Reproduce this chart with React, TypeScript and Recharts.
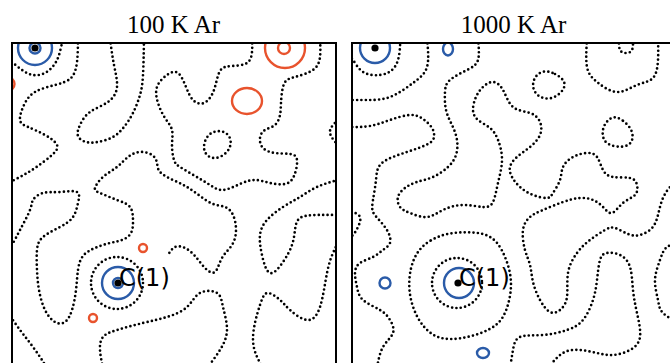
import React from 'react';
import { ComposedChart, Line, Scatter, XAxis, YAxis } from 'recharts';

// map coordinates of each panel (x to the right, y downwards from the top border)
const X_MAX = 323;
const Y_MAX = 330;

const toPts = (a: number[][]) => a.map(([x, y]) => ({ x, y }));

// ---- 100 K Ar: zero-level contours (dotted)
const coldA = toPts([[-4, 17], [1, 20], [10, 27], [21, 32], [33, 30], [42, 22], [47, 12], [50, 0], [51, -4]]);
const coldB = toPts([[66, -4], [65, 19], [59, 35], [43, 42], [23, 49], [12, 62], [8, 77], [16, 84], [33, 92], [45, 102], [40, 112], [23, 125], [8, 134], [-4, 140]]);
const coldC = toPts([[98, -4], [102, 22], [105, 44], [96, 59], [78, 69], [68, 82], [66, 93], [74, 99], [86, 99], [101, 94], [112, 84], [121, 70], [128, 52], [131, 32], [132, -4]]);
const coldD = toPts([[240, -4], [240, 9], [235, 20], [220, 23], [208, 28], [202, 47], [192, 60], [181, 57], [174, 44], [166, 30], [155, 32], [145, 44], [146, 60], [153, 75], [160, 87], [160, 102], [162, 117], [168, 124], [183, 133], [198, 142], [211, 147], [228, 141], [243, 137], [258, 140], [273, 141], [282, 133], [285, 117], [278, 111], [263, 110], [251, 105], [248, 95], [253, 87], [263, 82], [268, 72], [269, 60], [272, 41], [283, 34], [301, 27], [308, 14], [308, -4]]);
const coldE = toPts([[206, 87], [216, 90], [220, 99], [216, 110], [203, 117], [193, 112], [191, 102], [196, 91]]);
const coldF = toPts([[326, 77], [319, 85], [319, 93], [326, 102]]);
const coldG = toPts([[-4, 205], [1, 200], [8, 187], [18, 167], [21, 157], [31, 150], [48, 149], [65, 149], [66, 160], [61, 174], [48, 184], [31, 194], [25, 207], [25, 227], [27, 247], [33, 267], [43, 279], [53, 279], [60, 267], [64, 247], [66, 227], [71, 213], [83, 205], [98, 200], [110, 197], [119, 190], [121, 177], [118, 164], [105, 157], [88, 150], [83, 145], [91, 134], [105, 124], [116, 114], [128, 109], [140, 112], [145, 120], [148, 129], [161, 137], [175, 144], [188, 153], [201, 161], [213, 164], [221, 172], [224, 187], [220, 202], [210, 215], [203, 229], [193, 225], [183, 213], [173, 205], [163, 204], [156, 212]]);
const coldH = toPts([[-4, 270], [8, 287], [18, 300], [28, 314], [35, 325]]);
const coldI = toPts([[91, 325], [88, 307], [91, 294], [105, 287], [131, 280], [155, 274], [175, 264], [188, 250], [205, 250], [211, 264], [215, 287], [208, 307], [195, 325]]);
const coldJ = toPts([[326, 137], [305, 144], [288, 154], [271, 164], [255, 177], [248, 192], [250, 212], [258, 230], [271, 219], [280, 202], [283, 187], [288, 175], [305, 172], [326, 172]]);
const coldK = toPts([[251, 325], [241, 297], [248, 262], [256, 250], [268, 257], [278, 267], [295, 277], [308, 264], [315, 230], [321, 210], [326, 200]]);

// positive (red) and negative (blue) lobes: centre and radii in map units
const coldRed = [
  { x: 273, y: 5, rx: 20, ry: 20 },
  { x: 272, y: 5, rx: 6, ry: 6 },
  { x: 235, y: 58, rx: 15, ry: 13 },
  { x: 131, y: 205, rx: 4, ry: 4 },
  { x: 81, y: 275, rx: 4, ry: 4 },
  { x: -4, y: 41, rx: 6.5, ry: 6.5 },
];
const coldBlue = [
  { x: 23, y: 5, rx: 17, ry: 17 },
  { x: 23, y: 5, rx: 5.5, ry: 5.5 },
  { x: 106, y: 240, rx: 16, ry: 16 },
  { x: 106, y: 240, rx: 5, ry: 5 },
];
const coldRings = [{ x: 105, y: 240, rx: 26, ry: 26 }];
const coldAtoms = [
  { x: 23, y: 5, label: '' },
  { x: 106, y: 240, label: 'C(1)' },
];

// ---- 1000 K Ar
const hotA = toPts([[-4, 14], [1, 17], [11, 29], [28, 32], [40, 27], [46, 17], [48, 4], [48, -4]]);
const hotB = toPts([[75, -4], [75, 24], [61, 40], [38, 54], [15, 57], [-4, 57]]);
const hotC = toPts([[126, -4], [126, 17], [115, 27], [98, 37], [93, 49], [94, 67], [100, 82], [105, 97], [104, 112], [96, 124], [81, 134], [65, 139], [53, 145], [46, 154], [48, 164], [58, 170], [75, 174], [91, 167], [111, 162], [131, 164], [141, 159], [146, 140], [150, 117], [146, 97], [138, 85], [126, 77], [121, 67], [124, 54], [131, 44], [141, 39], [151, 47], [161, 64], [178, 70], [188, 79], [188, 92], [178, 104], [165, 114], [158, 124], [160, 134], [168, 144], [181, 152], [195, 155], [201, 150], [208, 137], [211, 124], [221, 114], [235, 110], [245, 114], [251, 127], [261, 134], [278, 135], [285, 142], [283, 152], [271, 160], [260, 170], [251, 164], [241, 157], [228, 155], [211, 159], [191, 167], [178, 174], [171, 187], [173, 207], [178, 222], [181, 239], [188, 257], [198, 269], [208, 267], [215, 254], [216, 230], [225, 210], [238, 197], [253, 187], [263, 185], [276, 191], [288, 192], [300, 185], [306, 172], [311, 155], [320, 142], [328, 137]]);
const hotD = toPts([[191, 27], [203, 30], [215, 39], [210, 50], [198, 57], [186, 54], [180, 45], [182, 34]]);
const hotE = toPts([[235, -4], [235, 24], [245, 39], [265, 49], [285, 42], [301, 35], [306, 17], [306, -4]]);
const hotF = toPts([[267, -4], [268, 7], [274, 10], [280, 7], [281, -4]]);
const hotG = toPts([[261, 72], [271, 77], [281, 87], [281, 100], [271, 105], [255, 102], [250, 94], [251, 82]]);
const hotH = toPts([[-4, 84], [1, 84], [18, 83], [38, 77], [58, 72], [71, 76], [80, 85], [82, 94], [76, 101], [55, 109], [30, 120], [24, 137], [21, 157], [21, 169], [28, 178], [36, 189], [38, 200], [31, 207], [21, 214], [8, 220], [3, 230], [5, 244], [11, 257], [28, 267], [38, 277], [41, 290], [31, 304], [25, 325]]);
const hotI = toPts([[-4, 166], [1, 169], [8, 174], [6, 184], [1, 192], [-4, 196]]);
const hotJ = toPts([[66, 207], [78, 197], [95, 190], [115, 189], [131, 190], [145, 197], [155, 217], [160, 237], [158, 257], [151, 277], [138, 287], [118, 294], [98, 297], [81, 294], [65, 277], [56, 250], [58, 224]]);
const hotK = toPts([[196, 325], [211, 310], [228, 307], [245, 310], [261, 312], [278, 307], [288, 294], [285, 270], [281, 247], [278, 224], [268, 212], [255, 210], [248, 217], [245, 237], [241, 257], [231, 277], [215, 287], [191, 292], [168, 294], [161, 307], [158, 325]]);
const hotL = toPts([[330, 200], [315, 204], [308, 217], [303, 237], [306, 257], [311, 270], [330, 282]]);

const hotRed: { x: number; y: number; rx: number; ry: number }[] = [];
const hotBlue = [
  { x: 23, y: 5, rx: 15, ry: 15 },
  { x: 107, y: 240, rx: 15, ry: 15 },
  { x: 96, y: 6, rx: 5, ry: 6.5 },
  { x: 33, y: 240, rx: 5.5, ry: 5.5 },
  { x: 131, y: 310, rx: 6, ry: 5 },
];
const hotRings = [{ x: 105, y: 240, rx: 25, ry: 25 }];
const hotAtoms = [
  { x: 23, y: 5, label: '' },
  { x: 106, y: 240, label: 'C(1)' },
];

const RED = '#e8532d';
const BLUE = '#2a5ba8';
const DOT = '#000';
const DOT_W = 2.7;
const DOT_DASH = '0 4.4';
const k = 1; // px per map unit (chart is X_MAX px wide)

const ellipse = (color: string, dash?: string) => (p: any) => (
  <ellipse
    cx={p.cx}
    cy={p.cy}
    rx={p.payload.rx * k}
    ry={p.payload.ry * k}
    fill="none"
    stroke={color}
    strokeWidth={dash ? DOT_W : 2.4}
    strokeDasharray={dash}
    strokeLinecap="round"
  />
);

const atomShape = (p: any) => (
  <g>
    <circle cx={p.cx} cy={p.cy} r={3.6} fill="#000" />
    {p.payload.label && (
      <text x={p.cx + 1} y={p.cy + 3} fontFamily="DejaVu Sans" fontSize={24} fill="#000">
        {p.payload.label}
      </text>
    )}
  </g>
);

type PanelProps = {
  left: number;
  title: string;
  open: { x: number; y: number }[][];
  closed: { x: number; y: number }[][];
  red: any[];
  blue: any[];
  rings: any[];
  atoms: any[];
};

const Panel = ({ left, title, open, closed, red, blue, rings, atoms }: PanelProps) => (
  <div style={{ position: 'absolute', left, top: 0, width: X_MAX, height: 363 }}>
    <div
      style={{
        position: 'absolute', left: 0, top: 12, width: X_MAX, textAlign: 'center',
        fontFamily: '"Liberation Serif"', fontSize: 25, lineHeight: '25px', color: '#000',
      }}
    >
      {title}
    </div>
    <div style={{ position: 'absolute', left: 0, top: 43 }}>
      <ComposedChart width={X_MAX} height={Y_MAX} margin={{ top: 0, right: 0, bottom: 0, left: 0 }}>
        <XAxis type="number" dataKey="x" domain={[0, X_MAX]} allowDataOverflow hide />
        <YAxis type="number" dataKey="y" domain={[0, Y_MAX]} reversed allowDataOverflow hide />
        {open.map((d, i) => (
          <Line key={'o' + i} data={d} dataKey="y" type="natural" stroke={DOT} strokeWidth={DOT_W}
            strokeDasharray={DOT_DASH} strokeLinecap="round" dot={false} activeDot={false}
            isAnimationActive={false} />
        ))}
        {closed.map((d, i) => (
          <Line key={'c' + i} data={d} dataKey="y" type="basisClosed" stroke={DOT} strokeWidth={DOT_W}
            strokeDasharray={DOT_DASH} strokeLinecap="round" dot={false} activeDot={false}
            isAnimationActive={false} />
        ))}
        <Scatter data={rings} shape={ellipse(DOT, DOT_DASH)} isAnimationActive={false} />
        <Scatter data={red} shape={ellipse(RED)} isAnimationActive={false} />
        <Scatter data={blue} shape={ellipse(BLUE)} isAnimationActive={false} />
        <Scatter data={atoms} shape={atomShape} isAnimationActive={false} />
      </ComposedChart>
    </div>
    <div
      style={{
        position: 'absolute', left: -1, top: 42, width: X_MAX + 3, height: Y_MAX + 4,
        border: '2px solid #000', boxSizing: 'border-box',
      }}
    />
  </div>
);

export default function App() {
  return (
    <div style={{ position: 'fixed', left: 0, top: 0, width: 670, height: 363, overflow: 'hidden', background: '#fff' }}>
      <Panel
        left={12}
        title="100 K Ar"
        open={[coldA, coldB, coldC, coldD, coldF, coldG, coldH, coldI, coldJ, coldK]}
        closed={[coldE]}
        red={coldRed}
        blue={coldBlue}
        rings={coldRings}
        atoms={coldAtoms}
      />
      <Panel
        left={352}
        title="1000 K Ar"
        open={[hotA, hotB, hotC, hotE, hotF, hotH, hotI, hotK, hotL]}
        closed={[hotD, hotG, hotJ]}
        red={hotRed}
        blue={hotBlue}
        rings={hotRings}
        atoms={hotAtoms}
      />
    </div>
  );
}
